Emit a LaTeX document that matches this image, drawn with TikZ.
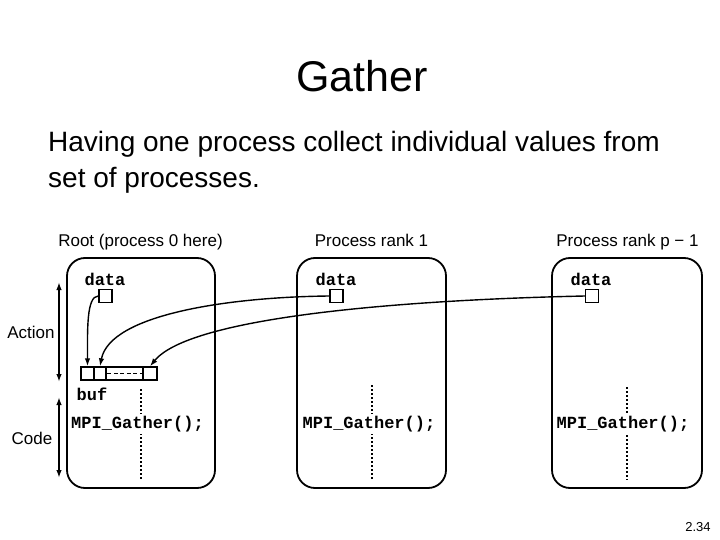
\documentclass[tikz,border=0pt]{standalone}
\usepackage{fontspec}
\setmainfont{Liberation Sans}
\newfontfamily\monof{Liberation Mono}
\usetikzlibrary{arrows.meta}
\begin{document}
\begin{tikzpicture}[x=1pt,y=-1pt,
  proc/.style={draw, line width=1.8pt, rounded corners=18pt, minimum height=230pt, inner sep=0},
  hdr/.style={font=\fontsize{17}{20}\selectfont, anchor=base, inner sep=0},
  code/.style={font=\monof\bfseries\fontsize{17}{20}\selectfont, anchor=base, inner sep=0},
  codew/.style={code, fill=white, inner sep=2pt},
  cell/.style={draw, line width=1.4pt, minimum height=13pt, inner sep=0},
  dbox/.style={draw, line width=1.4pt, minimum size=13pt, inner sep=0},
  flow/.style={line width=1.4pt, -{Latex[length=8pt,width=5.5pt]}},
  dots/.style={line width=2pt, dash pattern=on 2pt off 2pt},
  span/.style={line width=1.8pt, {Latex[length=8pt,width=5.5pt]}-{Latex[length=8pt,width=5.5pt]}}
]
\useasboundingbox (0,0) rectangle (720,540);

% title and text
\node[font=\fontsize{43}{50}\selectfont, anchor=base] (title) at (362,92) {Gather};
\node[font=\fontsize{28}{36}\selectfont, anchor=base west, inner sep=0] (l1) at (48,152) {Having one process collect individual values from};
\node[font=\fontsize{28}{36}\selectfont, anchor=base west, inner sep=0] (l2) at (48,188) {set of processes.};

% process boxes
\node[proc, minimum width=148pt] (b0) at (141,373) {};
\node[proc, minimum width=149pt] (b1) at (371.5,373) {};
\node[proc, minimum width=150pt] (b2) at (627,373) {};

\node[hdr] (h0) at (140.5,247) {Root (process 0 here)};
\node[hdr] (h1) at (371.5,247) {Process rank 1};
\node[hdr] (h2) at (627.5,247) {Process rank p − 1};

% dotted lines
\draw[dots] (141,389) -- (141,480);
\draw[dots] (372,385) -- (372,480);
\draw[dots] (627,387) -- (627,480);

% data
\node[code] (t0) at (105,285) {data};
\node[code] (t1) at (336,285) {data};
\node[code] (t2) at (591,285) {data};
\node[dbox] (d0) at (105.5,296) {};
\node[dbox] (d1) at (336.5,296) {};
\node[dbox] (d2) at (592,296) {};

% buf
\node[cell, minimum width=13pt] (c1) at (87.5,373.5) {};
\node[cell, minimum width=12.5pt] (c2) at (100,373.5) {};
\node[cell, minimum width=37pt] (cm) at (124.5,373.5) {};
\node[cell, minimum width=14pt] (cl) at (150,373.5) {};
\draw[line width=1.7pt, dash pattern=on 4pt off 2.5pt] ([xshift=2pt]cm.west) -- ([xshift=-2pt]cm.east);
\node[code] (buf) at (92,400) {buf};

% code
\node[codew] (m0) at (137.5,428) {MPI\_Gather();};
\node[codew] (m1) at (369,428) {MPI\_Gather();};
\node[codew] (m2) at (623,428) {MPI\_Gather();};

% side arrows
\coordinate (a1) at (59,282);
\coordinate (a2) at (59,382);
\coordinate (k1) at (59,397);
\coordinate (k2) at (59,478);
\draw[span] (a1) -- (a2);
\draw[span] (k1) -- (k2);
\node[font=\fontsize{17}{20}\selectfont] (act) at (31,332) {Action};
\node[font=\fontsize{17}{20}\selectfont] (cod) at (32,438) {Code};

% gather arrows
\draw[flow] (d0.west) .. controls +(-12,0) and +(0,-35) .. (c1.north);
\draw[flow] (d1.west) .. controls +(-100,1) and +(10,-52) .. (c2.north);
\draw[flow] (d2.west) .. controls +(-186,4) and +(40,-49) .. (cl.north);

\node[font=\fontsize{13}{15}\selectfont, anchor=base] (pg) at (698,531) {2.34};
\end{tikzpicture}
\end{document}
